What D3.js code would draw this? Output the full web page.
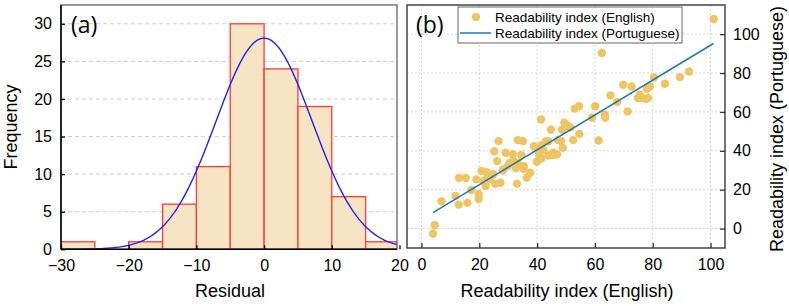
<!DOCTYPE html>
<html>
<head>
<meta charset="utf-8">
<script src="https://cdn.jsdelivr.net/npm/d3@7"></script>
<style>
  body { margin: 0; background: #fff; }
  svg { display: block; }
  text { font-family: "Liberation Sans", Arial, sans-serif; fill: #000; }
</style>
</head>
<body>
<svg id="chart" width="789" height="306"></svg>
<script>
// Panel (a): residual histogram.
const binStarts = [-30, -25, -20, -15, -10, -5, 0, 5, 10, 15];
const binCounts = [1, 0, 1, 6, 11, 30, 24, 19, 7, 1];
const binWidth = 5;
const fitMean = 0;
const fitSd = 7.1;
const histXTicks = [-30, -20, -10, 0, 10, 20];
const histYTicks = [0, 5, 10, 15, 20, 25, 30];

// Panel (b): readability scatter.
const englishIdx = [4.0, 4.6, 6.9, 11.8, 12.9, 15.9, 13.0, 15.3, 17.2, 19.0,
    19.8, 19.8, 20.8, 22.6, 21.5, 22.2, 23.0, 23.7, 24.8, 25.5,
    27.3, 25.2, 26.7, 26.2, 29.1, 28.2, 29.8, 31.6, 30.5, 31.9,
    33.3, 32.7, 33.0, 33.3, 35.1, 34.5, 35.4, 35.3, 36.4, 37.6,
    38.9, 39.9, 41.4, 40.8, 40.5, 41.6, 42.2, 43.1, 43.9, 44.0,
    44.8, 45.6, 45.7, 46.9, 47.2, 48.3, 48.9, 48.6, 41.5, 49.4,
    50.6, 51.5, 52.5, 54.6, 53.0, 54.5, 59.0, 60.1, 61.3, 62.4,
    63.4, 63.6, 65.4, 67.7, 71.3, 69.8, 72.7, 74.9, 75.5, 76.1,
    77.6, 78.4, 78.0, 79.0, 80.4, 84.2, 89.4, 92.6, 101.1, 28.1];
const portugueseIdx = [-2.6, 1.7, 14.0, 16.8, 12.3, 13.2, 26.0, 26.0, 19.8, 25.3,
    17.8, 15.2, 29.6, 29.0, 24.5, 22.0, 27.0, 25.3, 27.9, 23.0,
    23.6, 39.8, 45.0, 34.7, 39.0, 30.4, 32.1, 38.1, 33.8, 34.6,
    33.8, 31.2, 23.1, 45.5, 45.0, 37.8, 32.1, 30.8, 26.2, 28.7,
    42.4, 34.4, 56.1, 37.3, 39.7, 42.9, 40.5, 45.0, 44.8, 37.6,
    50.9, 39.0, 38.0, 38.1, 45.6, 45.0, 41.5, 50.9, 36.0, 54.4,
    52.6, 52.0, 45.5, 48.7, 61.7, 62.9, 57.0, 62.9, 45.3, 90.3,
    58.6, 57.0, 68.5, 65.1, 60.3, 74.0, 73.1, 67.2, 68.9, 67.2,
    66.7, 67.2, 71.9, 73.1, 77.7, 74.5, 77.9, 80.8, 107.8, 29.9];
const fitLineX = [4.0, 101.0];
const fitLineY = [8.2, 95.2];
const scatterTicks = [0, 20, 40, 60, 80, 100];

document.addEventListener("DOMContentLoaded", () => {

    const svg = d3.select("#chart");

    // ---------- Panel (a) ----------
    const ax = d3.scaleLinear().domain([-30, 20]).range([61, 399.5]);
    const ay = d3.scaleLinear().domain([0, 32.5]).range([249.3, 5]);
    const aRight = 397;

    svg.append("clipPath").attr("id", "clipA")
        .append("rect").attr("x", 61).attr("y", 5).attr("width", aRight - 61).attr("height", 244.3);

    // Dashed grid behind the bars.
    svg.append("g")
        .selectAll("line")
        .data(histYTicks.filter((d) => d > 0))
        .join("line")
        .attr("x1", 61).attr("x2", aRight)
        .attr("y1", (d) => ay(d)).attr("y2", (d) => ay(d))
        .attr("stroke", "#cfcfcf")
        .attr("stroke-width", 1)
        .attr("stroke-dasharray", "4,3");

    const bars = binStarts.map((s, i) => ({ start: s, count: binCounts[i] }))
        .filter((d) => d.count > 0);

    const plotA = svg.append("g").attr("clip-path", "url(#clipA)");

    plotA.selectAll("rect")
        .data(bars)
        .join("rect")
        .attr("x", (d) => ax(d.start))
        .attr("y", (d) => ay(d.count))
        .attr("width", (d) => ax(d.start + binWidth) - ax(d.start))
        .attr("height", (d) => ay(0) - ay(d.count))
        .attr("fill", "#f7e4c2")
        .attr("stroke", "#ff3a3a")
        .attr("stroke-width", 1.3);

    // Fitted normal curve scaled to counts.
    const total = d3.sum(binCounts);
    const normal = (x) => total * binWidth / (fitSd * Math.sqrt(2 * Math.PI)) *
        Math.exp(-((x - fitMean) ** 2) / (2 * fitSd * fitSd));
    const curveXs = d3.range(-30, 20.01, 0.25);
    plotA.append("path")
        .datum(curveXs)
        .attr("fill", "none")
        .attr("stroke", "#1f1fff")
        .attr("stroke-width", 1.4)
        .attr("d", d3.line().x((d) => ax(d)).y((d) => ay(normal(d))));

    // Frame.
    svg.append("rect")
        .attr("x", 61).attr("y", 5).attr("width", aRight - 61).attr("height", 244.3)
        .attr("fill", "none").attr("stroke", "#555").attr("stroke-width", 1.2);
    svg.append("line").attr("x1", 61).attr("x2", aRight).attr("y1", 249.3).attr("y2", 249.3)
        .attr("stroke", "#000").attr("stroke-width", 1.5);
    svg.append("line").attr("x1", 61).attr("x2", 61).attr("y1", 5).attr("y2", 249.3)
        .attr("stroke", "#000").attr("stroke-width", 1.5);

    // Axes with inward ticks.
    const axBottom = svg.append("g").attr("transform", "translate(0,249.3)")
        .call(d3.axisBottom(ax).tickValues(histXTicks).tickSizeInner(-4).tickSizeOuter(0).tickPadding(10));
    const axLeft = svg.append("g").attr("transform", "translate(61,0)")
        .call(d3.axisLeft(ay).tickValues(histYTicks).tickSizeInner(-4).tickSizeOuter(0).tickPadding(9));
    [axBottom, axLeft].forEach((g) => {
        g.select(".domain").remove();
        g.selectAll(".tick line").attr("stroke", "#000").attr("stroke-width", 1.3);
        g.selectAll("text").attr("font-size", 16).attr("font-family", "Liberation Sans, Arial, sans-serif");
    });

    svg.append("text")
        .attr("x", 71).attr("y", 33)
        .style("font-family", "'Open Sans', sans-serif")
        .attr("font-size", 23)
        .text("(a)");

    svg.append("text")
        .attr("x", 230).attr("y", 297)
        .attr("text-anchor", "middle")
        .attr("font-size", 18)
        .text("Residual");

    svg.append("text")
        .attr("transform", "translate(17,127) rotate(-90)")
        .attr("text-anchor", "middle")
        .attr("font-size", 18)
        .text("Frequency");

    // ---------- Panel (b) ----------
    const bx = d3.scaleLinear().domain([-5, 105]).range([407, 725]);
    const by = d3.scaleLinear().domain([-10, 115]).range([248, 5]);

    svg.append("rect")
        .attr("x", 407).attr("y", 5).attr("width", 318).attr("height", 243)
        .attr("fill", "#fff");

    // Dotted grid.
    const gridB = svg.append("g")
        .attr("stroke", "#d6d6d6")
        .attr("stroke-width", 1)
        .attr("stroke-dasharray", "2,2");
    gridB.selectAll(".gx")
        .data(scatterTicks)
        .join("line")
        .attr("class", "gx")
        .attr("x1", (d) => bx(d)).attr("x2", (d) => bx(d))
        .attr("y1", 5).attr("y2", 248);
    gridB.selectAll(".gy")
        .data(scatterTicks)
        .join("line")
        .attr("class", "gy")
        .attr("y1", (d) => by(d)).attr("y2", (d) => by(d))
        .attr("x1", 407).attr("x2", 725);

    const points = englishIdx.map((x, i) => ({ x: x, y: portugueseIdx[i] }));
    svg.append("g")
        .selectAll("circle")
        .data(points)
        .join("circle")
        .attr("cx", (d) => bx(d.x))
        .attr("cy", (d) => by(d.y))
        .attr("r", 4.2)
        .attr("fill", "#efc463");

    svg.append("path")
        .datum(fitLineX.map((x, i) => [x, fitLineY[i]]))
        .attr("fill", "none")
        .attr("stroke", "#1f77b9")
        .attr("stroke-width", 1.5)
        .attr("d", d3.line().x((d) => bx(d[0])).y((d) => by(d[1])));

    svg.append("rect")
        .attr("x", 407).attr("y", 5).attr("width", 318).attr("height", 243)
        .attr("fill", "none").attr("stroke", "#444").attr("stroke-width", 1.5);

    const bxAxis = svg.append("g").attr("transform", "translate(0,248)")
        .call(d3.axisBottom(bx).tickValues(scatterTicks).tickSizeInner(-5).tickSizeOuter(0).tickPadding(11));
    const byAxis = svg.append("g").attr("transform", "translate(725,0)")
        .call(d3.axisRight(by).tickValues(scatterTicks).tickSizeInner(-5).tickSizeOuter(0).tickPadding(8));
    [bxAxis, byAxis].forEach((g) => {
        g.select(".domain").remove();
        g.selectAll(".tick line").attr("stroke", "#333").attr("stroke-width", 1.3);
        g.selectAll("text").attr("font-size", 16).attr("font-family", "Liberation Sans, Arial, sans-serif");
    });

    // Legend.
    const legend = svg.append("g");
    legend.append("rect")
        .attr("x", 458).attr("y", 7).attr("width", 224).attr("height", 36)
        .attr("fill", "#fff").attr("stroke", "#666").attr("stroke-width", 1);
    legend.append("circle").attr("cx", 476).attr("cy", 17).attr("r", 4.2).attr("fill", "#efc463");
    legend.append("line").attr("x1", 460).attr("x2", 491).attr("y1", 33).attr("y2", 33)
        .attr("stroke", "#1f77b9").attr("stroke-width", 1.5);
    legend.append("text").attr("x", 495).attr("y", 22).attr("font-size", 13.5)
        .text("Readability index (English)");
    legend.append("text").attr("x", 495).attr("y", 38).attr("font-size", 13.5)
        .text("Readability index (Portuguese)");

    svg.append("text")
        .attr("x", 416).attr("y", 33)
        .style("font-family", "'Open Sans', sans-serif")
        .attr("font-size", 23)
        .text("(b)");

    svg.append("text")
        .attr("x", 567).attr("y", 297)
        .attr("text-anchor", "middle")
        .attr("font-size", 18)
        .text("Readability index (English)");

    svg.append("text")
        .attr("transform", "translate(783,129) rotate(-90)")
        .attr("text-anchor", "middle")
        .attr("font-size", 18)
        .text("Readability index (Portuguese)");
});
</script>
</body>
</html>
